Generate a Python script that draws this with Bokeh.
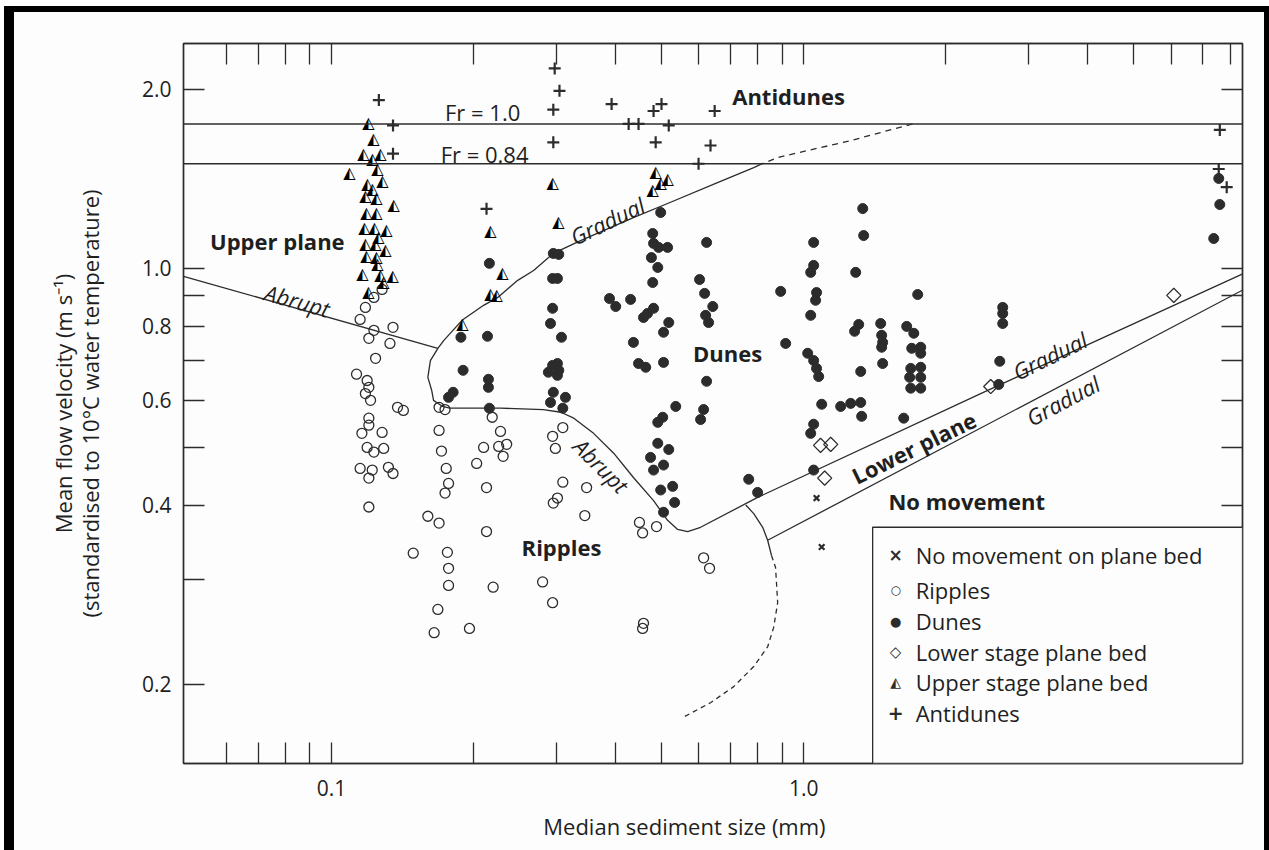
from bokeh.plotting import figure
from bokeh.models import (LogAxis, FixedTicker, CustomJSTickFormatter, Span, Label,
                          BoxAnnotation)
from bokeh.embed import file_html
from bokeh.resources import INLINE
from bokeh.core.properties import value

# ---------------- axes ----------------
X_RANGE = (0.0486, 8.5)
Y_RANGE = (0.147, 2.39)
x_ticks = [0.06, 0.07, 0.08, 0.09, 0.1, 0.2, 0.3, 0.4, 0.5, 0.6, 0.7, 0.8, 0.9, 1.0,
           2, 3, 4, 5, 6, 7, 8]
x_tick_labels = {0.1: "0.1", 1.0: "1.0"}
y_ticks = [0.2, 0.3, 0.4, 0.5, 0.6, 0.7, 0.8, 0.9, 1.0, 2.0]
y_tick_labels = {0.2: "0.2", 0.4: "0.4", 0.6: "0.6", 0.8: "0.8", 1.0: "1.0", 2.0: "2.0"}

# ---------------- Froude lines ----------------
froude_velocity = [1.75, 1.50]
froude_text = ["Fr = 1.0", "Fr = 0.84"]
froude_text_x = [0.209, 0.211]
froude_text_y = [1.83, 1.56]

# ---------------- data points ----------------
antidunes_x = [0.126, 0.135, 0.135, 0.213, 0.297, 0.304, 0.295, 0.295, 0.392, 0.426, 0.447,
               0.481, 0.500, 0.518, 0.486, 0.648, 0.635, 0.599, 7.61, 7.57, 7.87]
antidunes_y = [1.92, 1.74, 1.56, 1.26, 2.17, 1.99, 1.85, 1.63, 1.89, 1.75, 1.75,
               1.84, 1.89, 1.74, 1.63, 1.84, 1.61, 1.50, 1.71, 1.47, 1.37]

upper_plane_x = [0.1198, 0.1227, 0.1169, 0.1269, 0.1221, 0.1092, 0.1251, 0.1282, 0.1192, 0.1221,
                 0.1180, 0.1245, 0.1354, 0.1186, 0.1245, 0.1174, 0.1233, 0.1308, 0.1257, 0.1180,
                 0.1239, 0.1301, 0.1186, 0.1245, 0.1251, 0.1163, 0.1269, 0.1347, 0.1288, 0.1198,
                 0.2172, 0.2302, 0.2172, 0.2237, 0.1894, 0.2939, 0.3026, 0.4857, 0.5150, 0.4977,
                 0.4787]
upper_plane_y = [1.759, 1.654, 1.561, 1.561, 1.531, 1.450, 1.473, 1.406, 1.389, 1.363,
                 1.326, 1.316, 1.281, 1.242, 1.242, 1.172, 1.172, 1.163, 1.132, 1.102,
                 1.102, 1.076, 1.052, 1.047, 1.020, 0.981, 0.977, 0.973, 0.951, 0.915,
                 1.158, 0.985, 0.908, 0.904, 0.808, 1.394, 1.199, 1.456, 1.417, 1.394,
                 1.358]

ripples_x = [0.128, 0.123, 0.118, 0.115, 0.123, 0.120, 0.135, 0.133, 0.124, 0.113,
             0.119, 0.120, 0.118, 0.121, 0.138, 0.142, 0.120, 0.120, 0.116, 0.128,
             0.119, 0.123, 0.129, 0.115, 0.122, 0.120, 0.132, 0.135, 0.120, 0.149,
             0.169, 0.174, 0.219, 0.169, 0.228, 0.171, 0.210, 0.226, 0.235, 0.231,
             0.203, 0.175, 0.177, 0.174, 0.213, 0.160, 0.169, 0.213, 0.176, 0.177,
             0.309, 0.294, 0.298, 0.309, 0.347, 0.301, 0.295, 0.344, 0.449, 0.456,
             0.488, 0.614, 0.632, 0.177, 0.220, 0.280, 0.294, 0.168, 0.165, 0.196,
             0.458, 0.456]
ripples_y = [0.922, 0.894, 0.860, 0.821, 0.787, 0.763, 0.796, 0.748, 0.706, 0.664,
             0.648, 0.631, 0.616, 0.600, 0.584, 0.577, 0.560, 0.545, 0.528, 0.530,
             0.500, 0.491, 0.498, 0.461, 0.458, 0.444, 0.463, 0.452, 0.397, 0.332,
             0.584, 0.579, 0.562, 0.534, 0.532, 0.493, 0.500, 0.502, 0.506, 0.483,
             0.470, 0.461, 0.435, 0.419, 0.428, 0.383, 0.373, 0.361, 0.333, 0.313,
             0.540, 0.522, 0.498, 0.437, 0.428, 0.411, 0.403, 0.384, 0.374, 0.359,
             0.368, 0.326, 0.313, 0.293, 0.291, 0.297, 0.274, 0.267, 0.244, 0.248,
             0.253, 0.248]

dunes_x = [0.188, 0.214, 0.190, 0.215, 0.215, 0.181, 0.177, 0.216, 0.216,
           0.295, 0.303, 0.294, 0.301, 0.294, 0.291, 0.307, 0.294, 0.301, 0.288, 0.301,
           0.303, 0.295, 0.313, 0.291, 0.309,
           0.498, 0.479, 0.481, 0.493, 0.515, 0.476, 0.491, 0.479, 0.388, 0.400,
           0.430, 0.481, 0.467, 0.458, 0.518, 0.505, 0.436, 0.447, 0.463, 0.505,
           0.536, 0.503, 0.491, 0.491, 0.518, 0.474, 0.505, 0.481, 0.498, 0.528,
           0.533, 0.505,
           0.623, 0.602, 0.617, 0.642, 0.620, 0.629, 0.623, 0.614, 0.605,
           0.765, 0.799, 0.894, 0.916,
           1.050, 1.050, 1.035, 1.065, 1.060, 1.035, 1.020, 1.050, 1.065, 1.076,
           1.092, 1.050, 1.035, 1.050,
           1.198, 1.258, 1.321, 1.327, 1.334, 1.340, 1.289, 1.308, 1.282, 1.321,
           1.456, 1.463, 1.470, 1.463, 1.470,
           1.744, 1.653, 1.711, 1.694, 1.770, 1.770, 1.686, 1.770, 1.677, 1.770,
           1.686, 1.770, 1.629,
           2.640, 2.640, 2.640, 2.602, 2.589,
           7.571, 7.609, 7.388]
dunes_y = [0.766, 0.769, 0.674, 0.651, 0.631, 0.619, 0.607, 0.582, 1.020,
           1.060, 1.056, 0.962, 0.962, 0.857, 0.808, 0.766, 0.687, 0.692, 0.669, 0.661,
           0.674, 0.619, 0.607, 0.595, 0.582,
           1.242, 1.145, 1.102, 1.085, 1.085, 1.043, 1.004, 0.947, 0.890, 0.863,
           0.887, 0.857, 0.840, 0.827, 0.811, 0.781, 0.751, 0.692, 0.682, 0.695,
           0.586, 0.562, 0.551, 0.508, 0.496, 0.481, 0.467, 0.458, 0.424, 0.430,
           0.404, 0.389,
           1.106, 0.958, 0.908, 0.863, 0.834, 0.811, 0.646, 0.579, 0.557,
           0.442, 0.420, 0.915, 0.748,
           1.106, 1.012, 0.985, 0.911, 0.884, 0.834, 0.720, 0.700, 0.679, 0.658,
           0.591, 0.547, 0.528, 0.458,
           0.586, 0.593, 0.595, 0.564, 1.261, 1.136, 0.985, 0.805, 0.784, 0.671,
           0.808, 0.772, 0.751, 0.737, 0.692,
           0.904, 0.799, 0.778, 0.734, 0.737, 0.720, 0.679, 0.682, 0.656, 0.656,
           0.629, 0.629, 0.560,
           0.860, 0.840, 0.808, 0.698, 0.638,
           1.417, 1.281, 1.123]

lower_plane_x = [1.086, 1.141, 1.108, 2.490, 6.080]
lower_plane_y = [0.504, 0.506, 0.444, 0.633, 0.901]

no_movement_x = [1.065, 1.092]
no_movement_y = [0.411, 0.340]

# ---------------- phase boundaries ----------------
gradual_dashed_x = [1.70, 1.258, 0.881, 0.811]
gradual_dashed_y = [1.75, 1.641, 1.537, 1.496]
main_boundary_x = [0.811, 0.784, 0.657, 0.515, 0.436, 0.337, 0.295, 0.268, 0.248, 0.225,
                   0.210, 0.189, 0.173, 0.168, 0.162, 0.160, 0.163, 0.1645, 0.172, 0.178,
                   0.228, 0.281, 0.306, 0.326, 0.359, 0.396, 0.436, 0.481, 0.515, 0.541,
                   0.568, 0.605, 0.799, 2.371, 8.555]
main_boundary_y = [1.496, 1.478, 1.394, 1.286, 1.218, 1.114, 1.060, 0.992, 0.955, 0.894,
                   0.867, 0.818, 0.757, 0.734, 0.700, 0.656, 0.624, 0.600, 0.586, 0.582,
                   0.582, 0.579, 0.573, 0.560, 0.528, 0.489, 0.445, 0.407, 0.377, 0.364,
                   0.361, 0.367, 0.412, 0.616, 0.981]
abrupt_upper_x = [0.0486, 0.168]
abrupt_upper_y = [0.970, 0.734]
lower_gradual_x = [0.839, 8.555]
lower_gradual_y = [0.349, 0.922]
connector_x = [0.754, 0.784, 0.819, 0.839, 0.855]
connector_y = [0.400, 0.387, 0.367, 0.349, 0.329]
connector_dashed_x = [0.855, 0.872, 0.881, 0.864, 0.839, 0.784, 0.711, 0.635, 0.557]
connector_dashed_y = [0.329, 0.314, 0.274, 0.249, 0.231, 0.214, 0.198, 0.186, 0.176]

# ---------------- region / boundary labels ----------------
region_text = ["Antidunes", "Upper plane", "Dunes", "Ripples", "No movement", "Lower plane"]
region_x = [0.929, 0.0768, 0.690, 0.307, 2.215, 1.711]
region_y = [1.954, 1.114, 0.722, 0.340, 0.407, 0.500]
region_angle = [0, 0, 0, 0, 0, 26]

boundary_text = ["Abrupt", "Gradual", "Abrupt", "Gradual", "Gradual"]
boundary_x = [0.0847, 0.384, 0.373, 3.32, 3.54]
boundary_y = [0.884, 1.204, 0.4665, 0.714, 0.600]
boundary_angle = [-15.8, 26, -45, 26, 28]

legend_text = ["No movement on plane bed", "Ripples", "Dunes", "Lower stage plane bed",
               "Upper stage plane bed", "Antidunes"]
legend_symbol = ["\u00d7", "\u25cb", "\u25cf", "\u25c7", "\u25ed", "+"]
legend_symbol_size = ["17px", "12px", "13px", "15px", "14px", "19px"]
legend_row_y = [0.3294, 0.2876, 0.2551, 0.2263, 0.2014, 0.1787]
legend_symbol_x = 1.566
legend_text_x = 1.727
legend_box_left = 1.40
legend_box_top = 0.367

# ---------------- styling ----------------
INK = "#2c2c2c"
TXT = "#1f1f1f"
BG = "#fdfdfd"
FONT = "Open Sans"

p = figure(width=1269, height=850, x_axis_type="log", y_axis_type="log",
           x_range=X_RANGE, y_range=Y_RANGE, output_backend="svg", toolbar_location=None,
           min_border_left=183, min_border_right=27, min_border_top=43, min_border_bottom=87,
           background_fill_color=BG, border_fill_color=None,
           styles={"background-color": BG,
                   "box-shadow": "inset 4px 6px 0 0 #ffffff, inset 14px 12px 0 0 #000000, "
                                 "inset -5px 0 0 0 #000000"})
p.grid.visible = False
p.outline_line_color = INK
p.outline_line_width = 1.4


def tick_formatter(labels):
    return CustomJSTickFormatter(
        args=dict(vals=list(labels.keys()), labs=list(labels.values())),
        code="""
        for (let i = 0; i < vals.length; i++) {
            if (Math.abs(tick - vals[i]) <= 1e-6 * vals[i]) { return labs[i]; }
        }
        return "";
        """)


def style_axis(ax, ticks, labels):
    ax.ticker = FixedTicker(ticks=ticks, minor_ticks=[])
    ax.formatter = tick_formatter(labels)
    ax.major_tick_in = 21
    ax.major_tick_out = 0
    ax.minor_tick_in = 0
    ax.minor_tick_out = 0
    ax.minor_tick_line_color = None
    ax.axis_line_color = INK
    ax.axis_line_width = 1.4
    ax.major_tick_line_color = INK
    ax.major_tick_line_width = 1.3
    ax.major_label_text_font = FONT
    ax.major_label_text_font_size = "21px"
    ax.major_label_text_color = TXT
    ax.axis_label_text_font = FONT
    ax.axis_label_text_font_size = "22px"
    ax.axis_label_text_font_style = "normal"
    ax.axis_label_text_color = TXT


xb = p.xaxis[0]
yl = p.yaxis[0]
style_axis(xb, x_ticks, x_tick_labels)
style_axis(yl, y_ticks, y_tick_labels)
xb.major_label_standoff = 16
# trailing no-break spaces shift the centred title left, as in the original
xb.axis_label = "Median sediment size (mm)" + "\u00a0" * 10
xb.axis_label_standoff = 12
yl.major_label_standoff = 12
yl.axis_label = "Mean flow velocity (m s\u207b\u00b9)\n(standardised to 10\u00b0C water temperature)"
yl.axis_label_standoff = 34
yl.axis_label_text_line_height = 0.9

top_ax = LogAxis()
style_axis(top_ax, x_ticks, {})
p.add_layout(top_ax, "above")
right_ax = LogAxis()
style_axis(right_ax, y_ticks, {})
p.add_layout(right_ax, "right")

# Froude lines
for v in froude_velocity:
    p.add_layout(Span(location=v, dimension="width", line_color=INK, line_width=1.4))
for t, x, y in zip(froude_text, froude_text_x, froude_text_y):
    p.add_layout(Label(x=x, y=y, text=t, text_font=FONT, text_font_size="22px",
                       text_color=TXT, text_align="center", text_baseline="middle"))

# boundaries
line_kw = dict(line_color=INK, line_width=1.3)
p.line(main_boundary_x, main_boundary_y, **line_kw)
p.line(gradual_dashed_x, gradual_dashed_y, line_dash="6 5", **line_kw)
p.line(abrupt_upper_x, abrupt_upper_y, **line_kw)
p.line(lower_gradual_x, lower_gradual_y, **line_kw)
p.line(connector_x, connector_y, **line_kw)
p.line(connector_dashed_x, connector_dashed_y, line_dash="5 4", **line_kw)

# points
p.scatter(ripples_x, ripples_y, marker="circle", size=10, fill_color=None,
          line_color=INK, line_width=1.3)
p.scatter(dunes_x, dunes_y, marker="circle", size=10, fill_color=INK, line_color=INK)
p.scatter(lower_plane_x, lower_plane_y, marker="square", angle=0.785, size=10,
          fill_color=None, line_color=INK, line_width=1.3)
p.scatter(no_movement_x, no_movement_y, marker="x", size=8, line_color=INK, line_width=2.2)
p.scatter(antidunes_x, antidunes_y, marker="cross", size=12, line_color=INK, line_width=2.2)
p.text(upper_plane_x, upper_plane_y, text=["\u25ed"] * len(upper_plane_x),
       text_font=value("DejaVu Sans"), text_font_size="16px", text_color="#000000",
       text_align="center", text_baseline="middle")

# labels
for t, x, y, a in zip(region_text, region_x, region_y, region_angle):
    p.add_layout(Label(x=x, y=y, text=t, text_font=FONT, text_font_size="22px",
                       text_font_style="bold", text_color=TXT, angle=a, angle_units="deg",
                       text_align="center", text_baseline="middle"))
for t, x, y, a in zip(boundary_text, boundary_x, boundary_y, boundary_angle):
    p.add_layout(Label(x=x, y=y, text=t, text_font=FONT, text_font_size="22px",
                       text_font_style="italic", text_color=TXT, angle=a, angle_units="deg",
                       text_align="center", text_baseline="middle"))

# legend box
p.add_layout(BoxAnnotation(left=legend_box_left, top=legend_box_top, fill_color=BG,
                           fill_alpha=1, line_color=INK, line_width=1.3, line_alpha=1))
for t, s, fs, y in zip(legend_text, legend_symbol, legend_symbol_size, legend_row_y):
    p.add_layout(Label(x=legend_symbol_x, y=y, text=s, text_font="DejaVu Sans",
                       text_font_size=fs, text_color=INK, text_font_style="bold",
                       text_align="center", text_baseline="middle"))
    p.add_layout(Label(x=legend_text_x, y=y, text=t, text_font=FONT, text_font_size="22px",
                       text_color=TXT, text_align="left", text_baseline="middle"))

open("out.html", "w").write(file_html(p, INLINE))
